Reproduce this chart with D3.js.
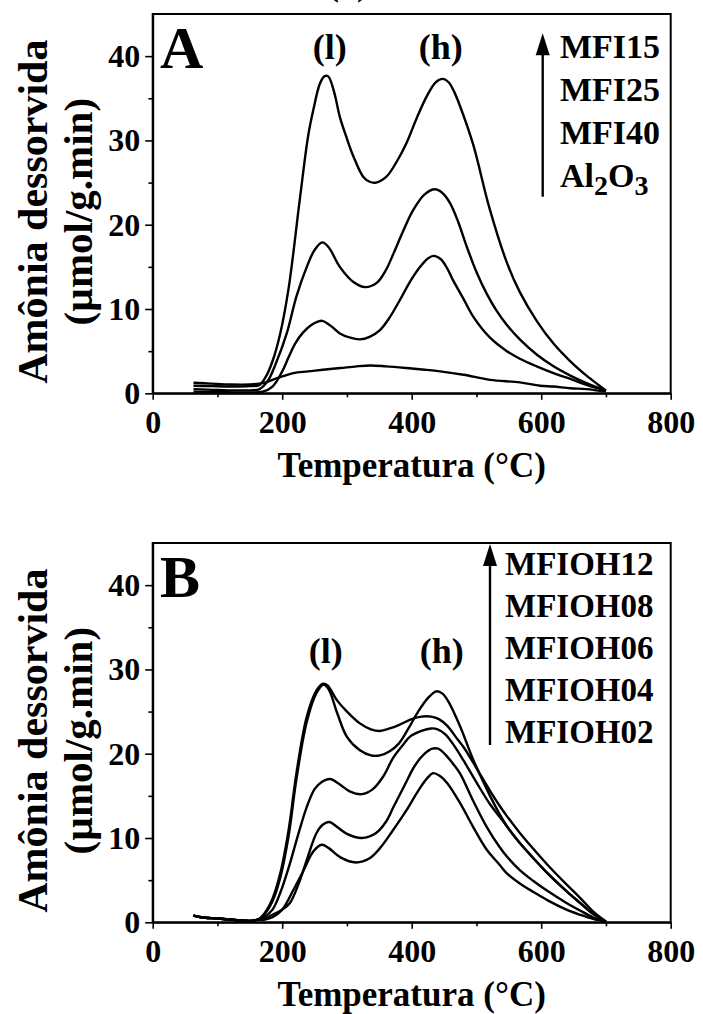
<!DOCTYPE html>
<html>
<head>
<meta charset="utf-8">
<script src="https://cdn.jsdelivr.net/npm/d3@7"></script>
<style>
  html, body { margin: 0; padding: 0; background: #fff; }
  svg { display: block; }
  text { font-family: "Liberation Serif", "Times New Roman", serif; font-weight: bold; fill: #000; }
</style>
</head>
<body>
<svg id="chart" width="703" height="1014"></svg>
<script>
// ---- Panel A: TPD of NH3, MFI samples and alumina (temperature °C, µmol/g.min)
const mfi15 = [[63,0.9],[90,0.85],[120,0.8],[150,0.85],[165,1.0],[175,2.0],[185,3.8],[197,7.1],[210,12.5],[227,22.9],[240,30.5],[248,33.6],[258,36.7],[265,37.6],[271,37.6],[280,35.8],[289,32.8],[300,30.2],[310,28.1],[325,25.7],[335,25.1],[345,25.0],[361,25.7],[377,27.5],[392,29.7],[408,32.7],[423,35.2],[437,36.9],[448,37.3],[457,36.9],[466,35.7],[475,34.0],[495,29.5],[520,22.0],[547,15.5],[567,12.0],[593,8.6],[619,5.9],[645,3.8],[670,2.1],[690,0.9],[700,0.3]];
const mfi25 = [[63,0.5],[100,0.4],[140,0.35],[165,0.5],[178,1.5],[190,3.5],[207,7.1],[222,11.5],[238,15.0],[250,17.0],[262,17.9],[272,17.3],[289,15.0],[310,13.2],[328,12.6],[346,13.1],[360,14.6],[372,16.6],[386,19.1],[402,21.7],[420,23.6],[436,24.2],[447,23.8],[459,22.6],[472,20.3],[485,17.4],[500,14.4],[516,11.8],[531,9.8],[547,8.1],[567,6.4],[593,4.6],[619,3.2],[645,2.1],[670,1.2],[700,0.3]];
const mfi40 = [[63,0.2],[100,0.15],[140,0.1],[170,0.2],[185,0.8],[200,2.6],[210,4.3],[220,5.9],[232,7.2],[245,8.1],[255,8.5],[262,8.6],[275,8.0],[289,7.1],[305,6.6],[320,6.4],[335,6.7],[351,7.5],[366,9.0],[382,11.1],[398,13.3],[413,15.0],[425,16.0],[434,16.3],[445,15.9],[455,14.8],[464,13.4],[480,11.2],[495,9.1],[521,6.6],[547,5.0],[567,4.1],[593,3.2],[619,2.4],[645,1.7],[670,1.0],[700,0.3]];
const al2o3 = [[63,1.25],[90,1.15],[120,1.05],[150,1.05],[170,1.2],[185,1.6],[200,2.0],[217,2.4],[240,2.6],[263,2.8],[290,3.0],[315,3.2],[336,3.3],[360,3.2],[392,3.0],[420,2.8],[444,2.6],[480,2.2],[521,1.6],[567,1.3],[598,0.9],[619,0.8],[645,0.6],[670,0.5],[700,0.2]];

// ---- Panel B: MFIOH series
const baseB = [[63,0.8],[75,0.6],[100,0.45],[130,0.25],[150,0.15],[162,0.3]];
const mfioh12 = [[172,1.0],[185,2.8],[197,5.8],[210,11.0],[222,17.7],[238,24.4],[253,27.5],[263,28.3],[270,28.1],[285,26.3],[300,25.0],[320,23.6],[337,22.9],[351,22.7],[366,23.0],[380,23.4],[400,24.1],[415,24.4],[430,24.4],[442,24.1],[455,23.3],[468,22.0],[480,20.8],[500,18.3],[521,15.6],[536,13.8],[547,12.6],[567,10.6],[588,8.7],[610,6.8],[639,4.5],[660,2.9],[680,1.3],[700,0.1]];
const mfioh08 = [[172,0.9],[185,2.5],[197,5.3],[210,10.3],[222,17.0],[238,23.8],[253,27.2],[264,28.2],[272,27.6],[285,24.8],[300,22.0],[320,20.4],[337,19.8],[351,19.8],[366,20.3],[380,21.2],[395,23.0],[410,25.0],[425,26.6],[438,27.4],[448,27.1],[458,26.0],[475,23.2],[495,19.3],[521,15.0],[536,12.8],[547,11.4],[567,9.4],[588,7.6],[610,5.8],[639,3.7],[660,2.3],[680,1.0],[700,0.1]];
const mfioh06 = [[172,0.6],[185,1.5],[197,3.5],[212,7.0],[225,10.5],[238,13.7],[250,15.8],[260,16.6],[274,17.0],[288,16.4],[305,15.5],[323,15.2],[340,15.8],[356,17.3],[372,19.6],[387,21.1],[397,22.0],[415,22.7],[430,23.0],[440,22.9],[452,22.3],[466,20.9],[480,19.2],[500,16.6],[521,14.0],[536,12.5],[547,11.4],[567,9.4],[588,7.6],[610,5.8],[639,3.7],[660,2.3],[680,1.0],[700,0.1]];
const mfioh04 = [[172,0.4],[185,0.9],[200,1.5],[212,2.3],[225,4.5],[238,7.4],[253,10.6],[263,11.6],[273,11.9],[285,11.3],[300,10.5],[323,10.0],[345,10.6],[360,11.9],[372,13.7],[390,16.4],[405,18.6],[420,20.0],[432,20.6],[441,20.6],[452,19.9],[465,18.7],[475,17.6],[495,14.4],[516,11.3],[536,8.9],[547,7.8],[567,6.2],[588,4.9],[610,3.7],[639,2.3],[660,1.4],[680,0.6],[700,0.1]];
const mfioh02 = [[172,0.3],[185,0.6],[200,1.5],[217,3.8],[232,6.0],[248,8.4],[261,9.2],[272,8.8],[290,7.7],[314,7.1],[335,7.6],[351,8.8],[370,10.8],[392,13.3],[410,15.6],[424,17.1],[433,17.7],[443,17.4],[455,16.5],[475,14.1],[495,11.3],[516,8.6],[536,6.8],[547,5.8],[567,4.6],[588,3.6],[610,2.6],[639,1.5],[660,0.9],[680,0.4],[700,0.05]];

const xTicks = [0, 200, 400, 600, 800];
const xMinor = [100, 300, 500, 700];
const yTicks = [0, 10, 20, 30, 40];
const yMinor = [5, 15, 25, 35];
const legendA = ["MFI15", "MFI25", "MFI40"];
const legendB = ["MFIOH12", "MFIOH08", "MFIOH06", "MFIOH04", "MFIOH02"];

const svg = d3.select("#chart");
const L = 152.7, R = 670.7;

function panel(top, bottom, series, letter, peakY, peakX) {
  const g = svg.append("g");
  const x = d3.scaleLinear().domain([0, 800]).range([L, R]);
  const y = d3.scaleLinear().domain([0, 45]).range([bottom, top]);

  const line = d3.line().x(d => x(d[0])).y(d => y(d[1])).curve(d3.curveCatmullRom.alpha(0.5));
  g.selectAll("path.curve").data(series).join("path")
    .attr("class", "curve")
    .attr("d", line)
    .attr("fill", "none").attr("stroke", "#000").attr("stroke-width", 2.4)
    .attr("stroke-linejoin", "round");

  // frame
  g.append("rect").attr("x", L).attr("y", top).attr("width", R - L).attr("height", bottom - top)
    .attr("fill", "none").attr("stroke", "#000").attr("stroke-width", 2);

  // x axis
  const xa = g.append("g").attr("transform", `translate(0,${bottom})`)
    .call(d3.axisBottom(x).tickValues(xTicks).tickSize(6.5).tickSizeOuter(0).tickFormat(d3.format("d")));
  xa.append("g").call(d3.axisBottom(x).tickValues(xMinor).tickSize(4).tickFormat(""))
    .select(".domain").remove();
  xa.selectAll("text").attr("y", 40).attr("dy", null).attr("font-size", 32)
    .style("font-family", "'Liberation Serif', serif").style("font-weight", "bold");

  // y axis
  const ya = g.append("g").attr("transform", `translate(${L},0)`)
    .call(d3.axisLeft(y).tickValues(yTicks).tickSize(7.5).tickPadding(5).tickSizeOuter(0));
  ya.append("g").call(d3.axisLeft(y).tickValues(yMinor).tickSize(4.3).tickFormat(""))
    .select(".domain").remove();
  ya.selectAll("text").attr("dy", "0.33em").attr("font-size", 32)
    .style("font-family", "'Liberation Serif', serif").style("font-weight", "bold");

  g.selectAll(".domain").attr("stroke-width", 2);
  g.selectAll(".tick line").attr("stroke-width", 1.6);

  // axis titles
  g.append("text").attr("x", (L + R) / 2).attr("y", bottom + 83.5)
    .attr("text-anchor", "middle").attr("font-size", 35).text("Temperatura (°C)");
  const cy = (top + bottom) / 2 + 8;
  g.append("text").attr("transform", `translate(47,${cy}) rotate(-90)`)
    .attr("text-anchor", "middle").attr("font-size", 42).text("Amônia dessorvida");
  g.append("text").attr("transform", `translate(92,${cy}) rotate(-90)`)
    .attr("text-anchor", "middle").attr("font-size", 41).text("(µmol/g.min)");

  // panel letter and peak labels
  g.append("text").attr("x", 160).attr("y", top + 54).attr("font-size", 60).text(letter);
  g.append("text").attr("x", peakX[0]).attr("y", peakY).attr("text-anchor", "middle").attr("font-size", 36).text("(l)");
  g.append("text").attr("x", peakX[1]).attr("y", peakY).attr("text-anchor", "middle").attr("font-size", 36).text("(h)");
  return g;
}

function arrow(g, x0, y0, y1) {
  g.append("line").attr("x1", x0).attr("x2", x0).attr("y1", y0).attr("y2", y1 + 18)
    .attr("stroke", "#000").attr("stroke-width", 2.4);
  g.append("path").attr("d", `M${x0},${y1} L${x0 - 7},${y1 + 22} L${x0 + 7},${y1 + 22} Z`).attr("fill", "#000");
}

// caption above the top panel, clipped by the page edge
svg.append("text").attr("x", 348).attr("y", -5).attr("text-anchor", "middle").attr("font-size", 36).text("(a)");

// Panel A
const gA = panel(14, 393.3, [al2o3, mfi40, mfi25, mfi15], "A", 59, [329.7, 440.8]);
arrow(gA, 542.7, 196.7, 33.3);
const legA = gA.append("g");
legA.selectAll("text").data(legendA).join("text")
  .attr("x", 560).attr("y", (d, i) => 58.3 + i * 43).attr("font-size", 34).text(d => d);
const alo = legA.append("text").attr("x", 560).attr("y", 187).attr("font-size", 34);
alo.append("tspan").text("Al");
alo.append("tspan").attr("dy", 8).attr("font-size", 28).text("2");
alo.append("tspan").attr("dy", -8).text("O");
alo.append("tspan").attr("dy", 8).attr("font-size", 28).text("3");

// Panel B
const withBase = s => baseB.concat(s);
const gB = panel(543, 922.3, [mfioh02, mfioh04, mfioh06, mfioh08, mfioh12].map(withBase), "B", 663, [325.8, 441.7]);
arrow(gB, 490, 745, 544);
gB.append("g").selectAll("text").data(legendB).join("text")
  .attr("x", 505).attr("y", (d, i) => 575 + i * 42.1).attr("font-size", 33).text(d => d);
</script>
</body>
</html>
